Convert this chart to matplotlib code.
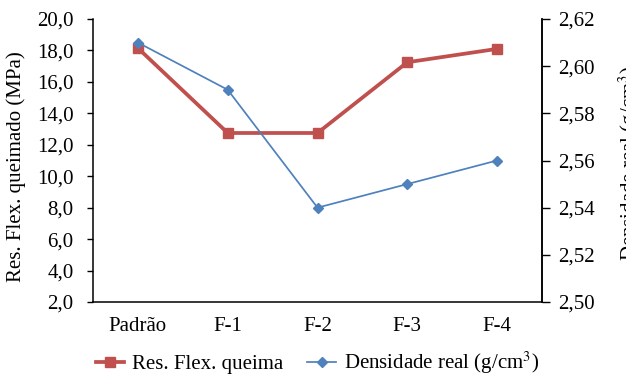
import matplotlib
matplotlib.use("Agg")
import matplotlib.pyplot as plt
from matplotlib.ticker import FuncFormatter

categorias = ["Padrão", "F-1", "F-2", "F-3", "F-4"]
res_flex = [18.15, 12.75, 12.75, 17.25, 18.1]
densidade = [2.61, 2.59, 2.54, 2.55, 2.56]

plt.rcParams['font.family'] = ['Liberation Serif', 'DejaVu Serif']
plt.rcParams['mathtext.fontset'] = 'stix'
fs = 15

fig = plt.figure(figsize=(6.26, 3.75), dpi=100)
ax = fig.add_axes([0.1486, 0.1947, 0.7172, 0.7546])
ax2 = ax.twinx()

x = range(len(categorias))
l1, = ax.plot(x, res_flex, color="#C0504D", lw=2.7, marker="s", ms=7.5,
              label="Res. Flex. queima")
l2, = ax2.plot(x, densidade, color="#4F81BD", lw=1.25, marker="D", ms=5.5,
               label="Densidade real (g/cm$^3$)")

ax.set_xlim(-0.5, 4.5)
ax.set_ylim(2.0, 20.0)
ax.set_yticks([2 + 2 * i for i in range(10)])
ax.yaxis.set_major_formatter(FuncFormatter(lambda v, p: f"{v:.1f}".replace(".", ",")))
ax2.set_ylim(2.50, 2.62)
ax2.set_yticks([2.50, 2.52, 2.54, 2.56, 2.58, 2.60, 2.62])
ax2.yaxis.set_major_formatter(FuncFormatter(lambda v, p: f"{v:.2f}".replace(".", ",")))

ax.set_xticks(list(x))
ax.set_xticklabels(categorias)
ax.tick_params(axis='x', length=0, labelsize=fs, pad=11)
ax.tick_params(axis='y', labelsize=fs, length=4.5, width=1, pad=9.5)
ax2.tick_params(axis='y', labelsize=fs, length=5.5, width=1, pad=6)

for a in (ax, ax2):
    a.spines['top'].set_visible(False)
    for s in a.spines.values():
        s.set_linewidth(1.1)
ax2.spines['left'].set_visible(False)
ax2.spines['bottom'].set_visible(False)

ax.set_ylabel("Res. Flex. queimado (MPa)", fontsize=fs)
ax.yaxis.set_label_coords(-0.149, 0.48)

# right label runs off the figure edge as in the original
fig.text(0.985, 0.565, "Densidade real (g/cm$^3$)", fontsize=fs,
         rotation=90, ha='left', va='center')

fig.legend(handles=[l1, l2], loc='center', bbox_to_anchor=(0.507, 0.032),
           ncol=2, frameon=False, fontsize=fs, handlelength=1.35,
           columnspacing=1.15, handletextpad=0.4)

fig.savefig("out.png", dpi=100)
